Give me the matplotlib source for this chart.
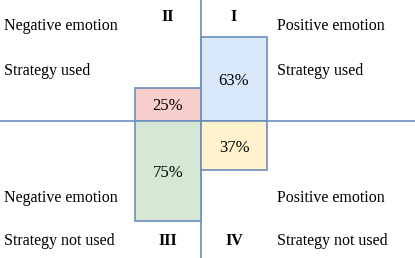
import matplotlib.pyplot as plt

# quadrant shares (%)
quadrants = ["I", "II", "III", "IV"]
shares = [63, 25, 75, 37]
fills = ["#dae8fc", "#f8cecc", "#d5e8d4", "#fff2cc"]
edge = "#6c8ebf"

plt.rcParams["font.family"] = ["Liberation Serif", "DejaVu Serif"]

fig = plt.figure(figsize=(4.15, 2.58), dpi=100)
ax = fig.add_axes([0, 0, 1, 1])
px = 66.0          # pixels per bar width
py = 84.0 / 63     # pixels per percent
ax.set_xlim(-201 / px, (415 - 201) / px)
ax.set_ylim(-(258 - 121) / py, 121 / py)
ax.axis("off")

# axes lines
ax.axhline(0, color=edge, lw=1.2, zorder=1)
ax.axvline(0, color=edge, lw=1.2, zorder=1)

# bars: I right/up, II left/up, III left/down, IV right/down
xs = [0.5, -0.5, -0.5, 0.5]
signs = [1, 1, -1, -1]
for x, s, v, c in zip(xs, signs, shares, fills):
    ax.bar(x, s * v, width=1.0, color=c, edgecolor=edge, lw=1.2, zorder=2)
    ax.text(x, s * v / 2 - 2 / py, f"{v}%", ha="center", va="center",
            fontsize=12, zorder=3)

# quadrant numerals
top_y = (121 - 17) / py
bot_y = -(241 - 121) / py
ax.text(0.5, top_y, "I", ha="center", va="center", fontsize=11.5, fontweight="bold")
ax.text(-0.5, top_y, "II", ha="center", va="center", fontsize=11.5, fontweight="bold")
ax.text(-0.5, bot_y, "III", ha="center", va="center", fontsize=11.5, fontweight="bold")
ax.text(0.5, bot_y, "IV", ha="center", va="center", fontsize=11.5, fontweight="bold")

# side labels
lx = (4 - 201) / px
rx = (277 - 201) / px
labels = [
    (lx, 26, "Negative emotion"), (lx, 71, "Strategy used"),
    (rx, 26, "Positive emotion"), (rx, 71, "Strategy used"),
    (lx, 198, "Negative emotion"), (lx, 241, "Strategy not used"),
    (rx, 198, "Positive emotion"), (rx, 241, "Strategy not used"),
]
for x, ypix, t in labels:
    ax.text(x, (121 - ypix) / py, t, ha="left", va="center", fontsize=11.5)

fig.savefig("out.png", dpi=100)
